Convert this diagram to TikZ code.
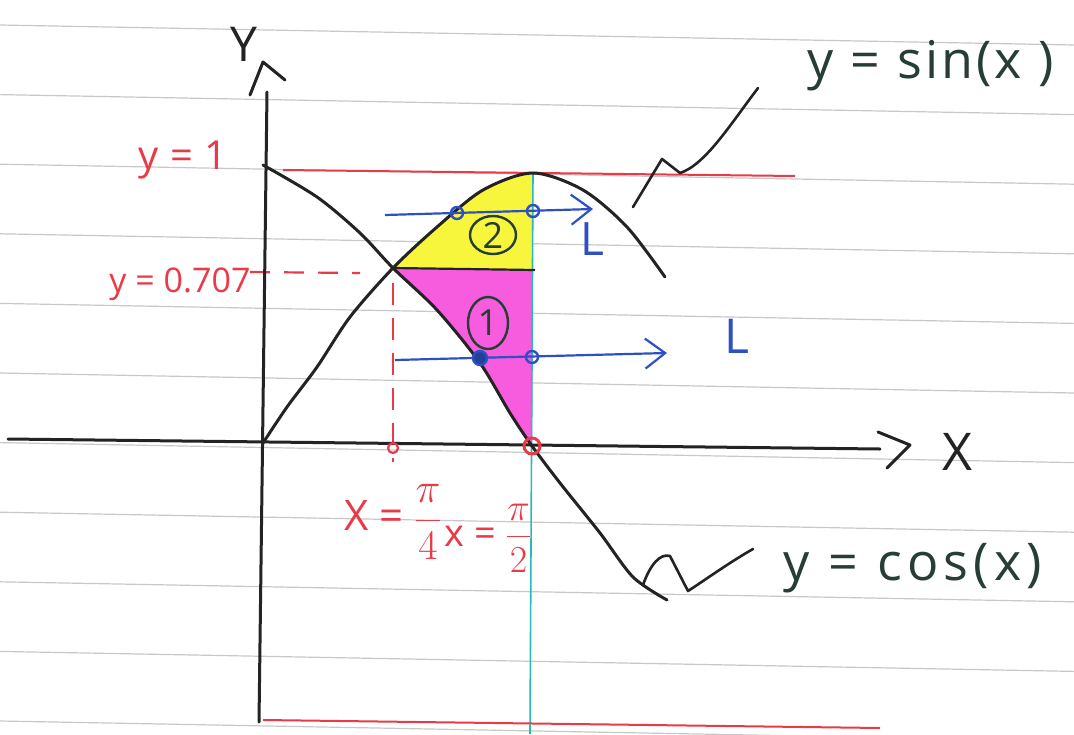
\documentclass[tikz,border=0pt]{standalone}
\usepackage{fix-cm}
\usepackage{fontspec}
\setmainfont{Open Sans}
\usetikzlibrary{arrows.meta,shapes.geometric}
\definecolor{ink}{RGB}{35,35,35}
\definecolor{pred}{RGB}{232,58,72}
\definecolor{pblue}{RGB}{45,80,195}
\definecolor{pcyan}{RGB}{40,185,185}
\definecolor{pyellow}{RGB}{248,246,60}
\definecolor{pmag}{RGB}{248,92,222}
\definecolor{ruleg}{RGB}{200,200,200}
\definecolor{pgreen}{RGB}{38,62,52}
\begin{document}
\begin{tikzpicture}[x=1pt,y=-1pt,
  curve/.style={ink,line width=3pt,line cap=round,line join=round},
  ruled/.style={ruleg,line width=1.2pt},
  redline/.style={pred,line width=2pt},
  reddash/.style={pred,line width=2.2pt,dash pattern=on 20pt off 14pt},
  bluearrow/.style={pblue,line width=2.2pt,-{Straight Barb[length=20pt,width=30pt,line width=2.2pt]}},
  bdot/.style={circle,draw=pblue,line width=2.4pt,inner sep=0pt,minimum size=12pt},
  rdot/.style={circle,draw=pred,line width=2.2pt,inner sep=0pt,minimum size=10pt},
  circnum/.style={ellipse,draw=pgreen,line width=2.4pt,text=pgreen,inner sep=0pt,font=\fontsize{36}{36}\selectfont},
  hand/.style={inner sep=0pt,font=\fontsize{#1}{#1}\selectfont},
  spaced/.style n args={2}{inner sep=0pt,font=\fontsize{#1}{#1}\selectfont\addfontfeature{LetterSpace=#2}},
  chev/.style={curve,line width=3pt}
]
\useasboundingbox (0,0) rectangle (1074,734);
\fill[white] (0,0) rectangle (1074,734);
% ruled paper
\foreach \k in {0,...,10} {
  \draw[ruled] (0,{25+69.6*\k}) -- (1074,{25+69.6*\k+20});
}
% shaded regions
\fill[pyellow] plot[smooth] coordinates {(393,268) (437,227) (483,190) (533,173)} -- (533,270) -- cycle;
\fill[pmag] plot[smooth] coordinates {(393,268) (437,310) (480,363) (510,413) (532,446)} -- (533,270) -- cycle;
% coordinates
\coordinate (xl) at (8,439);
\coordinate (xr) at (880,449);
\coordinate (yb) at (259,722);
\coordinate (yt) at (267,92);
\coordinate (cyt) at (533,173);
\coordinate (cyb) at (530,734);
\coordinate (r1l) at (283,170);
\coordinate (r1r) at (795,176);
\coordinate (rbl) at (263,720);
\coordinate (rbr) at (880,728);
\coordinate (cross) at (393,268);
\coordinate (divr) at (535,270);
\coordinate (dhl) at (250,272);
\coordinate (dhr) at (360,273);
\coordinate (dvt) at (393,283);
\coordinate (dvb) at (393,462);
\coordinate (a1s) at (385,215);
\coordinate (a1e) at (593,209);
\coordinate (a2s) at (395,360);
\coordinate (a2e) at (667,353);
% cyan line
\draw[pcyan,line width=1.6pt] (cyt) -- (cyb);
% red lines
\draw[redline] (r1l) -- (r1r);
\draw[redline] (rbl) -- (rbr);
\draw[reddash] (dhl) -- (dhr);
\draw[reddash,dash pattern=on 22pt off 13pt] (dvt) -- (dvb);
% axes
\draw[curve] (xl) -- (xr);
\draw[curve] (yb) -- (yt);
\draw[chev] (878,432) -- (910,445) -- (887,468);
\draw[chev] (250,95) -- (263,62) -- (285,80);
% curves
\draw[curve] plot[smooth] coordinates {(263,443) (287,407) (317,367) (350,317) (393,268) (437,227) (483,190) (533,173) (583,190) (627,227) (665,277)};
\draw[curve] plot[smooth] coordinates {(263,165) (317,197) (360,233) (393,268) (437,310) (480,363) (510,413) (532,446) (560,483) (600,533) (633,577) (667,600)};
\draw[ink,line width=2.2pt] (cross) -- (divr);
% squiggle leaders
\draw[curve,line width=2.6pt] (633,207) -- (662,159) -- (680,173) .. controls (705,165) and (730,125) .. (758,88);
\draw[curve,line width=2.6pt] (643,585) .. controls (650,565) and (660,553) .. (670,556) -- (688,591) .. controls (705,580) and (730,562) .. (753,549);
% blue arrows
\draw[bluearrow] (a1s) -- (a1e);
\draw[bluearrow] (a2s) -- (a2e);
\node[bdot] (b1) at (457,213) {};
\node[bdot] (b2) at (533,211) {};
\node[bdot,fill=pblue!80!black,minimum size=14pt] (b3) at (480,358) {};
\node[bdot] (b4) at (532,357) {};
% red points
\node[rdot] (px4) at (393,448) {};
\node[rdot,minimum size=16pt,line width=3pt] (px2) at (532,446) {};
% circled numbers
\node[circnum,minimum width=46pt,minimum height=38pt] (n2) at (493,235) {2};
\node[circnum,minimum width=40pt,minimum height=52pt] (n1) at (488,323) {1};
% labels
\node[spaced={40}{3},text=pred] (ly1) at (183,160) {y = 1};
\node[hand=34,text=pred] (l707) at (180,284) {y = 0.707};
\node[spaced={52}{6},text=pgreen] (lsin) at (931,66) {y = sin(x )};
\node[spaced={52}{10},text=pgreen] (lcos) at (913,568) {y = cos(x)};
\node[hand=52,text=ink] (lx) at (957,452) {X};
\node[hand=48,text=ink] (ly) at (244,44) {Y};
\node[hand=46,text=pblue] (L1) at (592,239) {L};
\node[hand=48,text=pblue] (L2) at (737,336) {L};
\node[hand=42,text=pred] (fx4) at (393,522) {X = $\displaystyle\frac{\pi}{4}$};
\node[hand=38,text=pred] (fx2) at (488,538) {x = $\displaystyle\frac{\pi}{2}$};
\end{tikzpicture}
\end{document}
